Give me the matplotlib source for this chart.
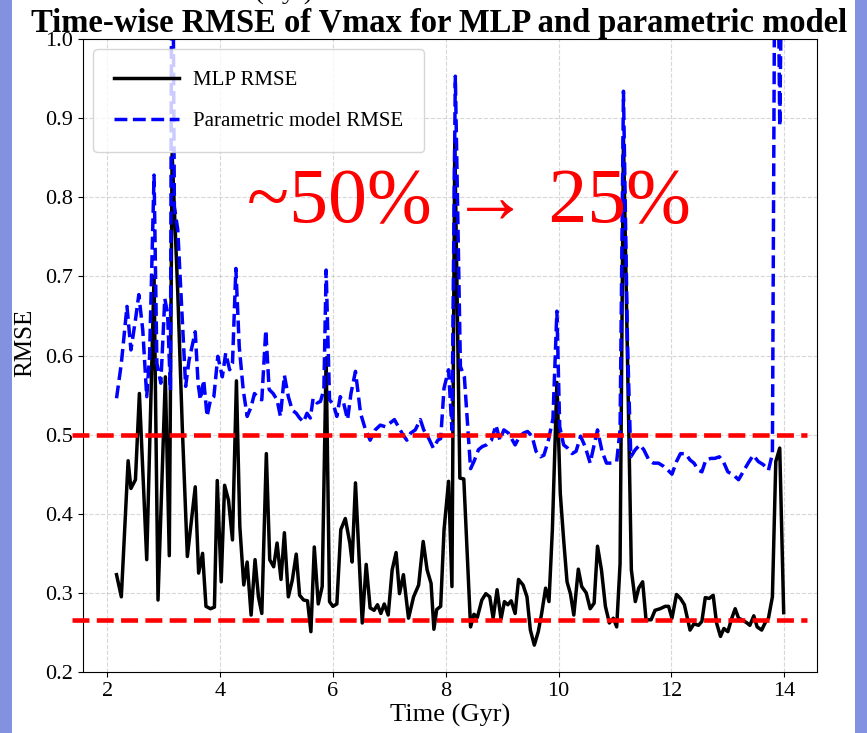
import numpy as np
import matplotlib
matplotlib.use("Agg")
import matplotlib.pyplot as plt
from matplotlib.patches import Rectangle

plt.rcParams['font.family'] = ['Liberation Serif', 'DejaVu Serif']

# MLP RMSE over time (Gyr)
t_mlp = [2.165, 2.25, 2.37, 2.42, 2.50, 2.57, 2.70, 2.83, 2.90, 3.03, 3.10, 3.15,
         3.25, 3.33, 3.42, 3.56, 3.62, 3.69, 3.75, 3.83, 3.90, 3.95, 4.02, 4.08,
         4.15, 4.22, 4.29, 4.35, 4.42, 4.48, 4.55, 4.62, 4.68, 4.74, 4.82, 4.88,
         4.95, 5.01, 5.08, 5.14, 5.21, 5.28, 5.35, 5.41, 5.48, 5.55, 5.61, 5.67,
         5.74, 5.81, 5.88, 5.94, 6.00, 6.07, 6.14, 6.22, 6.30, 6.34, 6.40, 6.52,
         6.59, 6.66, 6.73, 6.79, 6.85, 6.91, 6.98, 7.05, 7.12, 7.18, 7.25, 7.34,
         7.43, 7.52, 7.60, 7.67, 7.74, 7.79, 7.84, 7.91, 7.97, 8.05, 8.11, 8.16,
         8.25, 8.32, 8.44, 8.50, 8.56, 8.64, 8.71, 8.78, 8.84, 8.91, 8.98, 9.04,
         9.10, 9.16, 9.23, 9.29, 9.37, 9.44, 9.50, 9.57, 9.64, 9.70, 9.77, 9.83,
         9.89, 9.97, 10.03, 10.09, 10.15, 10.21, 10.27, 10.35, 10.41, 10.49, 10.56,
         10.63, 10.69, 10.76, 10.83, 10.90, 10.97, 11.03, 11.09, 11.15, 11.22,
         11.29, 11.36, 11.42, 11.49, 11.55, 11.64, 11.71, 11.80, 11.89, 11.95,
         12.01, 12.09, 12.16, 12.23, 12.33, 12.40, 12.48, 12.54, 12.60, 12.67,
         12.74, 12.80, 12.87, 12.93, 13.00, 13.07, 13.13, 13.19, 13.25, 13.34,
         13.39, 13.46, 13.52, 13.60, 13.66, 13.72, 13.79, 13.85, 13.92, 13.99]
rmse_mlp = [0.323, 0.295, 0.467, 0.432, 0.443, 0.552, 0.342, 0.700, 0.291, 0.573, 0.347, 0.855,
            0.680, 0.510, 0.346, 0.434, 0.325, 0.350, 0.283, 0.280, 0.282, 0.442, 0.314, 0.436,
            0.417, 0.367, 0.568, 0.384, 0.310, 0.339, 0.272, 0.342, 0.295, 0.274, 0.476, 0.342,
            0.333, 0.363, 0.317, 0.376, 0.295, 0.316, 0.349, 0.297, 0.291, 0.290, 0.251, 0.358,
            0.286, 0.308, 0.597, 0.289, 0.283, 0.286, 0.380, 0.394, 0.363, 0.339, 0.439, 0.262,
            0.336, 0.281, 0.278, 0.285, 0.274, 0.286, 0.272, 0.329, 0.351, 0.299, 0.323, 0.268,
            0.295, 0.310, 0.365, 0.329, 0.312, 0.254, 0.279, 0.283, 0.380, 0.441, 0.308, 0.870,
            0.445, 0.444, 0.257, 0.273, 0.269, 0.291, 0.299, 0.295, 0.268, 0.304, 0.267, 0.289,
            0.285, 0.290, 0.274, 0.317, 0.310, 0.295, 0.253, 0.234, 0.251, 0.274, 0.306, 0.289,
            0.380, 0.566, 0.426, 0.367, 0.314, 0.299, 0.272, 0.330, 0.308, 0.300, 0.280,
            0.287, 0.359, 0.329, 0.283, 0.262, 0.268, 0.257, 0.337, 0.875, 0.600,
            0.329, 0.289, 0.306, 0.314, 0.266, 0.266, 0.278, 0.280, 0.283, 0.283,
            0.268, 0.298, 0.293, 0.285, 0.253, 0.261, 0.259, 0.264, 0.294, 0.293,
            0.297, 0.262, 0.245, 0.255, 0.251, 0.268, 0.280, 0.268, 0.266, 0.262,
            0.259, 0.271, 0.257, 0.253, 0.262, 0.268, 0.295, 0.466, 0.483, 0.275]

# parametric model RMSE over time (Gyr)
t_par = [2.165, 2.25, 2.35, 2.42, 2.50, 2.56, 2.63, 2.70, 2.75, 2.83, 2.88, 2.95,
         3.02, 3.07, 3.12, 3.15, 3.19, 3.25, 3.33, 3.39, 3.45, 3.56, 3.61, 3.65,
         3.71, 3.77, 3.83, 3.89, 3.96, 4.04, 4.10, 4.17, 4.22, 4.28, 4.34, 4.41,
         4.48, 4.55, 4.61, 4.68, 4.74, 4.81, 4.87, 4.94, 5.01, 5.07, 5.14, 5.21,
         5.28, 5.35, 5.41, 5.48, 5.54, 5.60, 5.65, 5.72, 5.78, 5.84, 5.88, 5.94,
         6.01, 6.07, 6.13, 6.19, 6.26, 6.32, 6.40, 6.49, 6.57, 6.66, 6.75, 6.84,
         6.93, 7.00, 7.09, 7.16, 7.24, 7.31, 7.38, 7.46, 7.55, 7.61, 7.68, 7.78,
         7.86, 7.91, 7.97, 8.05, 8.11, 8.17, 8.26, 8.33, 8.44, 8.50, 8.58, 8.65,
         8.72, 8.81, 8.89, 8.96, 9.03, 9.11, 9.23, 9.31, 9.38, 9.45, 9.53, 9.60,
         9.68, 9.74, 9.82, 9.90, 9.97, 10.02, 10.09, 10.16, 10.24, 10.31, 10.39,
         10.47, 10.56, 10.63, 10.69, 10.77, 10.85, 10.94, 11.03, 11.09, 11.15,
         11.22, 11.28, 11.36, 11.44, 11.51, 11.60, 11.68, 11.77, 11.86, 11.94,
         12.01, 12.09, 12.16, 12.25, 12.33, 12.40, 12.48, 12.54, 12.61, 12.70,
         12.77, 12.85, 12.92, 13.00, 13.10, 13.19, 13.27, 13.36, 13.45, 13.54,
         13.63, 13.72, 13.79, 13.85, 13.92, 13.99]
rmse_par = [0.546, 0.590, 0.662, 0.607, 0.645, 0.677, 0.632, 0.548, 0.599, 0.828, 0.590, 0.565,
            0.672, 0.653, 0.556, 1.300, 0.788, 0.759, 0.645, 0.561, 0.594, 0.630, 0.565, 0.544,
            0.569, 0.523, 0.544, 0.548, 0.599, 0.573, 0.603, 0.582, 0.590, 0.710, 0.611, 0.557,
            0.523, 0.535, 0.552, 0.546, 0.544, 0.632, 0.557, 0.552, 0.544, 0.523, 0.575, 0.548,
            0.531, 0.527, 0.521, 0.516, 0.527, 0.521, 0.546, 0.540, 0.542, 0.557, 0.708, 0.544,
            0.538, 0.523, 0.548, 0.540, 0.519, 0.552, 0.580, 0.527, 0.508, 0.493, 0.506, 0.512,
            0.510, 0.514, 0.519, 0.510, 0.500, 0.493, 0.502, 0.506, 0.519, 0.506, 0.498, 0.483,
            0.493, 0.495, 0.559, 0.582, 0.506, 0.953, 0.586, 0.573, 0.457, 0.466, 0.481, 0.485,
            0.487, 0.493, 0.512, 0.493, 0.506, 0.502, 0.487, 0.498, 0.502, 0.504, 0.498, 0.479,
            0.472, 0.474, 0.493, 0.520, 0.656, 0.510, 0.487, 0.483, 0.476, 0.479, 0.498,
            0.485, 0.464, 0.487, 0.506, 0.479, 0.464, 0.464, 0.466, 0.506, 0.934,
            0.620, 0.472, 0.481, 0.487, 0.481, 0.468, 0.464, 0.464, 0.460, 0.455,
            0.450, 0.466, 0.476, 0.476, 0.468, 0.464, 0.455, 0.453, 0.468, 0.470,
            0.470, 0.472, 0.466, 0.453, 0.449, 0.443, 0.453, 0.464, 0.474, 0.466,
            0.462, 0.455, 0.476, 1.400, 0.890, 1.300]

# reference levels drawn on the slide
ref_levels = [0.499, 0.266]
ref_span = (1.368, 14.40)
note = "~50% \u2192 25%"

fig = plt.figure(figsize=(8.67, 7.33), dpi=100)
ax = fig.add_axes([0.0957, 0.0832, 0.8466, 0.8636])

ax.plot(t_mlp, rmse_mlp, color='black', linewidth=2.5, label='MLP RMSE')
ax.plot(t_par, rmse_par, color='blue', linestyle='--', linewidth=2.5,
        label='Parametric model RMSE')

ax.set_xlim(1.57, 14.58)
ax.set_ylim(0.2, 1.0)
ax.set_xticks([2, 4, 6, 8, 10, 12, 14])
ax.grid(True, linestyle='--', alpha=0.5)
ax.tick_params(labelsize=16)
ax.set_xlabel('Time (Gyr)', fontsize=19, labelpad=2)
ax.set_ylabel('RMSE', fontsize=18)
ax.yaxis.set_label_coords(-0.064, 0.52)
ax.set_title('Time-wise RMSE of Vmax for MLP and parametric model',
             fontsize=23.5, fontweight='bold', pad=4, x=0.485)

ax.legend(loc='upper left', fontsize=15, borderpad=1.0, labelspacing=1.05,
          handlelength=3.1, handletextpad=0.7)

# slide annotations
ax.hlines(ref_levels, ref_span[0], ref_span[1], colors='red', linestyles='--',
          linewidth=3.3, clip_on=False, zorder=5)
ax.text(8.42, 0.769, note, color='red', fontsize=56, ha='center',
        va='baseline', zorder=6)

# slide background edges and a stray label cut off at the top
for x0 in (0.0, 855 / 867):
    fig.patches.append(Rectangle((x0, 0), 12 / 867, 1, transform=fig.transFigure,
                                 facecolor='#8392E0', edgecolor='none', zorder=-1))
fig.text(284 / 867, 1.0, '(Gyr)', ha='center', va='baseline', fontsize=19)

fig.savefig('out.png', dpi=100)
